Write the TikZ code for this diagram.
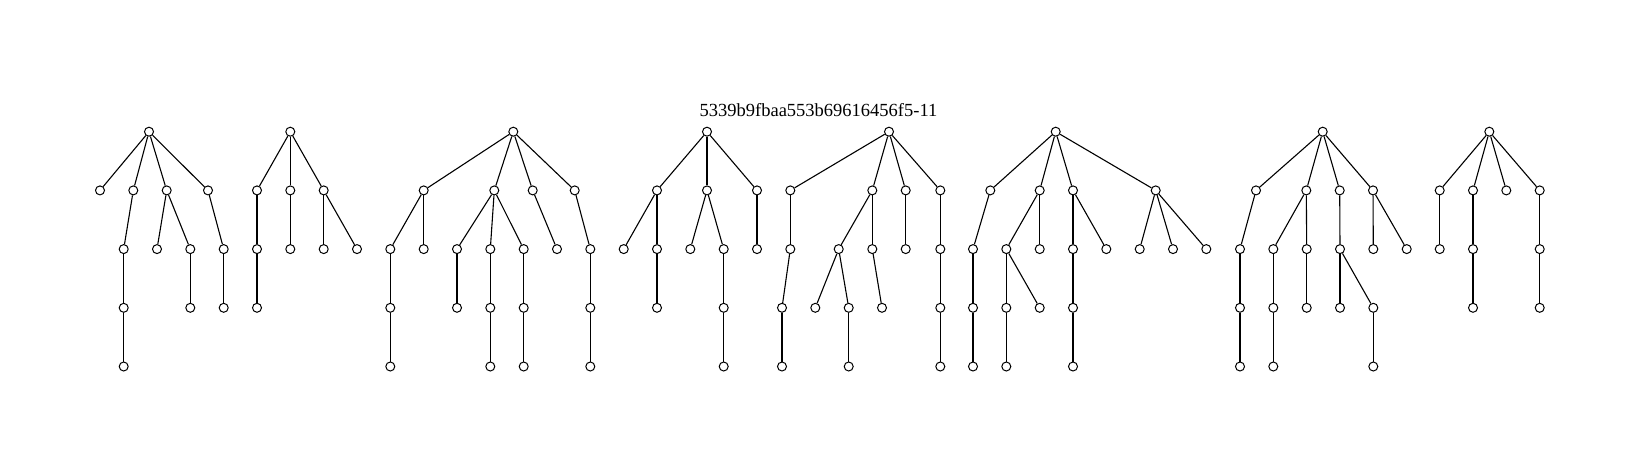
\documentclass[tikz,border=0pt]{standalone}
\usepackage{fontspec}
\setmainfont{Liberation Serif}
\begin{document}
\begin{tikzpicture}[x=1pt,y=-1pt,
  v/.style={circle,draw=black,fill=white,line width=1pt,minimum size=9pt,inner sep=0pt},
  edge/.style={draw=black,line width=1.1pt},
  ttl/.style={anchor=base,inner sep=0pt,font=\fontsize{18.5}{20}\selectfont}]
\useasboundingbox (0,0) rectangle (1640,468);
\def\La{131.7}\def\Lb{190.4}\def\Lc{249.1}\def\Ld{307.8}\def\Le{366.5}
\node[ttl] (title) at (818.5,116.7) {5339b9fbaa553b69616456f5-11};
% tree a
\node[v] (a0) at (149,\La) {};
\node[v] (a1) at (100,\Lb) {};
\node[v] (a2) at (133.3,\Lb) {};
\node[v] (a3) at (166.7,\Lb) {};
\node[v] (a4) at (208,\Lb) {};
\node[v] (a5) at (123.7,\Lc) {};
\node[v] (a6) at (157,\Lc) {};
\node[v] (a7) at (190.3,\Lc) {};
\node[v] (a8) at (223.7,\Lc) {};
\node[v] (a9) at (123.7,\Ld) {};
\node[v] (a10) at (190.3,\Ld) {};
\node[v] (a11) at (223.7,\Ld) {};
\node[v] (a12) at (123.7,\Le) {};
% tree b
\node[v] (b0) at (290.3,\La) {};
\node[v] (b1) at (257,\Lb) {};
\node[v] (b2) at (290.3,\Lb) {};
\node[v] (b3) at (323.7,\Lb) {};
\node[v] (b4) at (257,\Lc) {};
\node[v] (b5) at (290.3,\Lc) {};
\node[v] (b6) at (323.7,\Lc) {};
\node[v] (b7) at (357,\Lc) {};
\node[v] (b8) at (257,\Ld) {};
% tree c
\node[v] (c0) at (513.3,\La) {};
\node[v] (c1) at (423.7,\Lb) {};
\node[v] (c2) at (494.3,\Lb) {};
\node[v] (c3) at (532.7,\Lb) {};
\node[v] (c4) at (574.7,\Lb) {};
\node[v] (c5) at (390.3,\Lc) {};
\node[v] (c6) at (423.7,\Lc) {};
\node[v] (c7) at (457,\Lc) {};
\node[v] (c8) at (490.3,\Lc) {};
\node[v] (c9) at (523.7,\Lc) {};
\node[v] (c10) at (557,\Lc) {};
\node[v] (c11) at (590.3,\Lc) {};
\node[v] (c12) at (390.3,\Ld) {};
\node[v] (c13) at (457,\Ld) {};
\node[v] (c14) at (490.3,\Ld) {};
\node[v] (c15) at (523.7,\Ld) {};
\node[v] (c16) at (590.3,\Ld) {};
\node[v] (c17) at (390.3,\Le) {};
\node[v] (c18) at (490.3,\Le) {};
\node[v] (c19) at (523.7,\Le) {};
\node[v] (c20) at (590.3,\Le) {};
% tree d
\node[v] (d0) at (707,\La) {};
\node[v] (d1) at (657,\Lb) {};
\node[v] (d2) at (707,\Lb) {};
\node[v] (d3) at (757,\Lb) {};
\node[v] (d4) at (623.7,\Lc) {};
\node[v] (d5) at (657,\Lc) {};
\node[v] (d6) at (690.3,\Lc) {};
\node[v] (d7) at (723.7,\Lc) {};
\node[v] (d8) at (757,\Lc) {};
\node[v] (d9) at (657,\Ld) {};
\node[v] (d10) at (723.7,\Ld) {};
\node[v] (d11) at (723.7,\Le) {};
% tree e
\node[v] (e0) at (889,\La) {};
\node[v] (e1) at (790.3,\Lb) {};
\node[v] (e2) at (872.3,\Lb) {};
\node[v] (e3) at (905.7,\Lb) {};
\node[v] (e4) at (940.3,\Lb) {};
\node[v] (e5) at (790.3,\Lc) {};
\node[v] (e6) at (838.7,\Lc) {};
\node[v] (e7) at (872.3,\Lc) {};
\node[v] (e8) at (905.7,\Lc) {};
\node[v] (e9) at (940.3,\Lc) {};
\node[v] (e10) at (782,\Ld) {};
\node[v] (e11) at (815.3,\Ld) {};
\node[v] (e12) at (848.7,\Ld) {};
\node[v] (e13) at (882,\Ld) {};
\node[v] (e14) at (940.3,\Ld) {};
\node[v] (e15) at (782,\Le) {};
\node[v] (e16) at (848.7,\Le) {};
\node[v] (e17) at (940.3,\Le) {};
% tree f
\node[v] (f0) at (1055.7,\La) {};
\node[v] (f1) at (990.3,\Lb) {};
\node[v] (f2) at (1039.7,\Lb) {};
\node[v] (f3) at (1073,\Lb) {};
\node[v] (f4) at (1155.7,\Lb) {};
\node[v] (f5) at (973,\Lc) {};
\node[v] (f6) at (1006.3,\Lc) {};
\node[v] (f7) at (1039.7,\Lc) {};
\node[v] (f8) at (1073,\Lc) {};
\node[v] (f9) at (1106.3,\Lc) {};
\node[v] (f10) at (1139.7,\Lc) {};
\node[v] (f11) at (1173,\Lc) {};
\node[v] (f12) at (1206.3,\Lc) {};
\node[v] (f13) at (973,\Ld) {};
\node[v] (f14) at (1006.3,\Ld) {};
\node[v] (f15) at (1039.7,\Ld) {};
\node[v] (f16) at (1073,\Ld) {};
\node[v] (f17) at (973,\Le) {};
\node[v] (f18) at (1006.3,\Le) {};
\node[v] (f19) at (1073,\Le) {};
% tree g
\node[v] (g0) at (1322.7,\La) {};
\node[v] (g1) at (1256,\Lb) {};
\node[v] (g2) at (1306.3,\Lb) {};
\node[v] (g3) at (1339.7,\Lb) {};
\node[v] (g4) at (1373,\Lb) {};
\node[v] (g5) at (1240,\Lc) {};
\node[v] (g6) at (1273.3,\Lc) {};
\node[v] (g7) at (1306.7,\Lc) {};
\node[v] (g8) at (1340,\Lc) {};
\node[v] (g9) at (1373.3,\Lc) {};
\node[v] (g10) at (1406.7,\Lc) {};
\node[v] (g11) at (1240,\Ld) {};
\node[v] (g12) at (1273.3,\Ld) {};
\node[v] (g13) at (1306.7,\Ld) {};
\node[v] (g14) at (1340,\Ld) {};
\node[v] (g15) at (1373.3,\Ld) {};
\node[v] (g16) at (1240,\Le) {};
\node[v] (g17) at (1273.3,\Le) {};
\node[v] (g18) at (1373.3,\Le) {};
% tree h
\node[v] (h0) at (1489.3,\La) {};
\node[v] (h1) at (1439.7,\Lb) {};
\node[v] (h2) at (1473,\Lb) {};
\node[v] (h3) at (1506.3,\Lb) {};
\node[v] (h4) at (1539.7,\Lb) {};
\node[v] (h5) at (1439.7,\Lc) {};
\node[v] (h6) at (1473,\Lc) {};
\node[v] (h7) at (1539.7,\Lc) {};
\node[v] (h8) at (1473,\Ld) {};
\node[v] (h9) at (1539.7,\Ld) {};
% edges
\foreach \u/\w in {a0/a1,a0/a2,a0/a3,a0/a4,a2/a5,a3/a6,a3/a7,a4/a8,a5/a9,a7/a10,a8/a11,a9/a12,
  b0/b1,b0/b2,b0/b3,b1/b4,b2/b5,b3/b6,b3/b7,b4/b8,
  c0/c1,c0/c2,c0/c3,c0/c4,c1/c5,c1/c6,c2/c7,c2/c8,c2/c9,c3/c10,c4/c11,c5/c12,c7/c13,c8/c14,c9/c15,c11/c16,c12/c17,c14/c18,c15/c19,c16/c20,
  d0/d1,d0/d2,d0/d3,d1/d4,d1/d5,d2/d6,d2/d7,d3/d8,d5/d9,d7/d10,d10/d11,
  e0/e1,e0/e2,e0/e3,e0/e4,e1/e5,e2/e6,e2/e7,e3/e8,e4/e9,e5/e10,e6/e11,e6/e12,e7/e13,e9/e14,e10/e15,e12/e16,e14/e17,
  f0/f1,f0/f2,f0/f3,f0/f4,f1/f5,f2/f6,f2/f7,f3/f8,f3/f9,f4/f10,f4/f11,f4/f12,f5/f13,f6/f14,f6/f15,f8/f16,f13/f17,f14/f18,f16/f19,
  g0/g1,g0/g2,g0/g3,g0/g4,g1/g5,g2/g6,g2/g7,g3/g8,g4/g9,g4/g10,g5/g11,g6/g12,g7/g13,g8/g14,g8/g15,g11/g16,g12/g17,g15/g18,
  h0/h1,h0/h2,h0/h3,h0/h4,h1/h5,h2/h6,h4/h7,h6/h8,h7/h9}
  \draw[edge] (\u) -- (\w);
\end{tikzpicture}
\end{document}
